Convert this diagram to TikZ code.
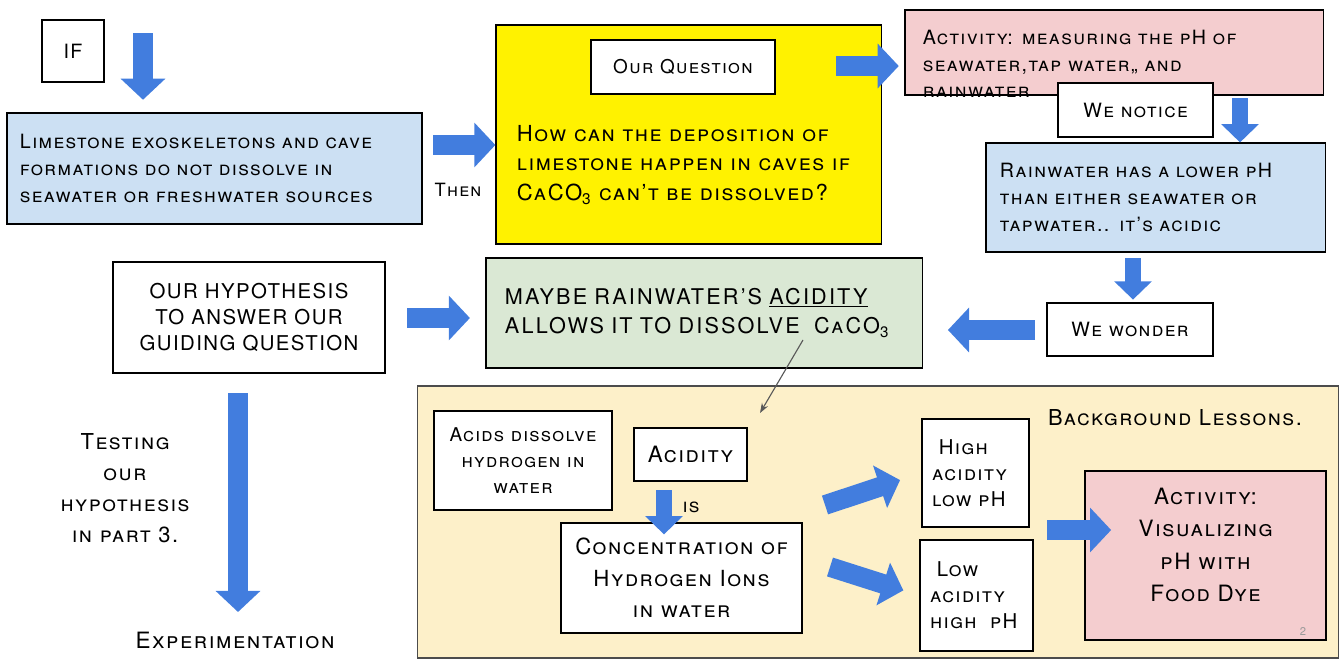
\documentclass[tikz,border=0pt]{standalone}
\usepackage{fontspec}
\setmainfont{TeX Gyre Heros}
\usetikzlibrary{arrows.meta}
\definecolor{boxblue}{RGB}{204,224,243}
\definecolor{boxpink}{RGB}{244,205,207}
\definecolor{boxgreen}{RGB}{218,232,212}
\definecolor{lessonbg}{RGB}{253,240,201}
\definecolor{arrowblue}{RGB}{66,125,222}
\newcommand{\handfont}[2]{\fontsize{#1}{#2}\selectfont\scshape\addfontfeatures{LetterSpace=7}}
\newcommand{\capsfont}[3]{\fontsize{#1}{#2}\selectfont\addfontfeatures{LetterSpace=#3}}

\begin{document}
\begin{tikzpicture}[x=0.025cm, y=-0.025cm]

\tikzset{
  txt/.style={font={\handfont{14pt}{19pt}}},
  bigtxt/.style={font={\handfont{15.8pt}{22pt}}},
  smalltxt/.style={font={\handfont{13.5pt}{18.5pt}}},
  plainbox/.style={draw, fill=white, line width=0.8pt, txt},
  fatarrow/.style={draw=arrowblue, line width=14pt, -{Triangle[width=31pt, length=15pt]}},
  slimarrow/.style={draw=arrowblue, line width=12pt, -{Triangle[width=26pt, length=13pt]}},
  thinarrow/.style={draw=black!65, line width=0.8pt, -{Stealth[length=7pt, width=5pt]}}
}
\useasboundingbox (0,0) rectangle (1340,658);

% If / Then
\node[plainbox, minimum width=1.55cm, minimum height=1.55cm] (ifbox) at (73,51) {IF};
\node[plainbox, fill=boxblue, minimum height=2.775cm, text width=9.725cm, inner xsep=0.325cm, align=left] (lime) at (214.5,168.5)
  {Limestone exoskeletons and cave\\formations do not dissolve in\\seawater or freshwater sources};
\node[txt, font={\handfont{13pt}{19pt}}] (then) at (458,190) {Then};

% Our question
\node[plainbox, fill=yellow, minimum width=9.625cm, minimum height=5.475cm] (quest) at (688.5,134.5) {};
\node[plainbox, minimum width=4.6cm, minimum height=1.35cm, font={\handfont{13.5pt}{19pt}}] (qlabel) at (683,67) {Our Question};
\node[anchor=west, align=left, font={\handfont{15.7pt}{21pt}}] (qtext) at (512,165)
  {How can the deposition of\\limestone happen in caves if\\CaCO\textsubscript{3} can't be dissolved?};

% Activity 1
\node[plainbox, fill=boxpink, minimum width=10.45cm, minimum height=2.125cm] (act1) at (1114,52.5) {};
\node[txt, anchor=west, align=left] (act1txt) at (918,64)
  {Activity: measuring the pH of\\seawater,tap water,, and\\rainwater};
\node[plainbox, minimum width=3.875cm, minimum height=1.35cm] (notice) at (1135.5,110) {We notice};
\node[plainbox, fill=boxblue, minimum height=2.725cm, text width=7.775cm, inner xsep=0.35cm, align=left] (rain) at (1155.5,197.5)
  {Rainwater has a lower pH\\than either seawater or\\tapwater.. it's acidic};
\node[plainbox, minimum width=4.15cm, minimum height=1.325cm] (wonder) at (1130,329.5) {We wonder};

% Hypothesis
\node[plainbox, minimum width=6.8cm, minimum height=2.775cm, align=center, font={\capsfont{14.5pt}{18.5pt}{7}}] (hyp) at (249,317.5)
  {OUR HYPOTHESIS\\TO ANSWER OUR\\GUIDING QUESTION};
\node[plainbox, fill=boxgreen, minimum height=2.75cm, text width=9.95cm, inner xsep=0.475cm, align=left, font={\capsfont{15.4pt}{21pt}{10}}] (maybe) at (704,313)
  {MAYBE RAINWATER'S \underline{ACIDITY}\\ALLOWS IT TO DISSOLVE \ {\scshape CaCO\textsubscript{3}}};
\node[align=center, font={\handfont{15.6pt}{22pt}}] (testing) at (125,488)
  {Testing\\our\\hypothesis\\in part 3.};
\node[font={\handfont{16pt}{22pt}}] (exper) at (235,640) {Experimentation};

% Background lessons
\node[draw=black!70, fill=lessonbg, line width=0.8pt, minimum width=23cm, minimum height=6.8cm] (lessons) at (878,522) {};
\node[bigtxt, font={\handfont{15.6pt}{22pt}}] (lesslabel) at (1175,418) {Background Lessons.};
\node[plainbox, smalltxt, minimum width=4.45cm, minimum height=2.475cm, align=center] (acids) at (523,460.5)
  {Acids dissolve\\hydrogen in\\water};
\node[plainbox, font={\handfont{16pt}{22pt}}, minimum width=2.825cm, minimum height=1.325cm] (acidity) at (690.5,454.5) {Acidity};
\node[txt] (istxt) at (691,507) {is};
\node[plainbox, minimum width=6.025cm, minimum height=2.75cm, align=center, font={\handfont{15.8pt}{22.5pt}}] (conc) at (681.5,578)
  {Concentration of\\Hydrogen Ions\\in water};
\node[plainbox, font={\handfont{14.5pt}{18.5pt}}, minimum height=2.7cm, text width=2.175cm, inner xsep=0.25cm, align=left] (high) at (975.5,473)
  {\ High\\acidity\\low pH};
\node[plainbox, font={\handfont{14.5pt}{18.5pt}}, minimum height=2.775cm, text width=2.325cm, inner xsep=0.25cm, align=left] (low) at (976.5,595.5)
  {\ Low\\acidity\\high\ \ pH};
\node[plainbox, fill=boxpink, minimum width=6.025cm, minimum height=4.225cm] (act2) at (1205.5,555.5) {};
\node[align=center, font={\handfont{16pt}{23pt}}] (act2txt) at (1205.5,545)
  {Activity:\\Visualizing\\pH with\\Food Dye};
\node[text=black!40, font=\fontsize{8pt}{9pt}\selectfont] (pagenum) at (1303,632) {2};

% Arrows
\coordinate (ifarr) at (143,33);
\draw[fatarrow, shorten >=9pt] (ifarr) -- (ifarr |- lime.north);
\coordinate (thenarr) at (433,145);
\draw[fatarrow] (thenarr) -- (thenarr -| quest.west);
\coordinate (qarr) at (836,66);
\draw[fatarrow, shorten >=4pt] (qarr) -- (qarr -| act1.west);
\coordinate (notarr) at (1240,98);
\draw[slimarrow] (notarr) -- (notarr |- rain.north);
\coordinate (rainarr) at (1133,258);
\draw[slimarrow, shorten >=2pt] (rainarr) -- (rainarr |- wonder.north);
\coordinate (wondarr) at (1035,330);
\draw[fatarrow, shorten >=18pt] (wondarr) -- (wondarr -| maybe.east);
\coordinate (hyparr) at (407,318);
\draw[fatarrow, shorten >=11pt] (hyparr) -- (hyparr -| maybe.west);
\coordinate (testarr) at (238,393);
\coordinate (testend) at (238,612);
\draw[fatarrow] (testarr) -- (testend);
\coordinate (acarr) at (664,490);
\draw[slimarrow, shorten >=-8.5pt] (acarr) -- (acarr |- conc.north);
\coordinate (conchi) at (825,505);
\draw[fatarrow, shorten >=16pt] (conchi) -- (high.west);
\coordinate (conclo) at (830,567);
\draw[fatarrow, shorten >=12pt] (conclo) -- (low.west);
\coordinate (hlarr) at (1047,530);
\draw[fatarrow, shorten >=-19pt] (hlarr) -- (hlarr -| act2.west);
\coordinate (thinstart) at (803,340);
\coordinate (thinend) at (760,413);
\draw[thinarrow] (thinstart) -- (thinend);

\end{tikzpicture}
\end{document}
